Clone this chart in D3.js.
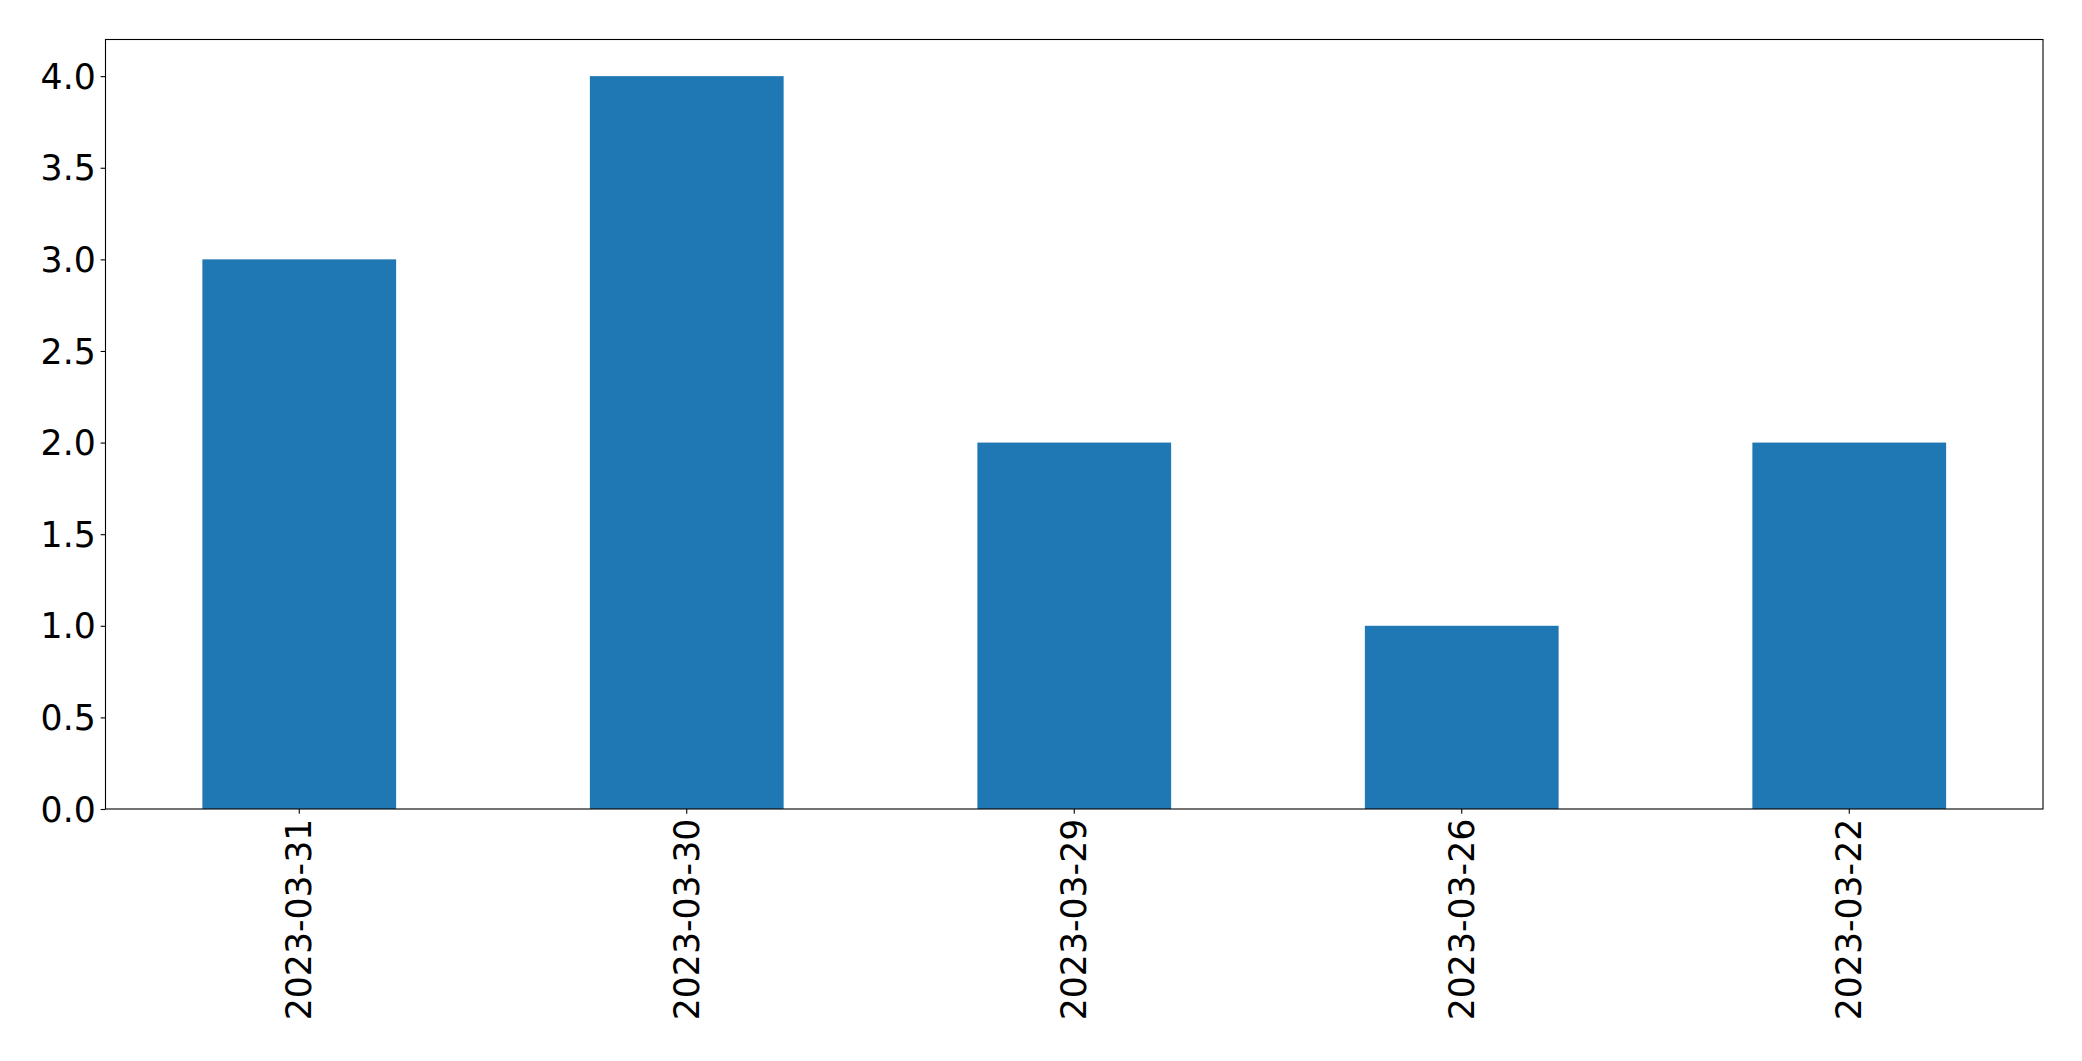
<!DOCTYPE html>
<html>
<head>
<meta charset="utf-8">
<script src="https://cdn.jsdelivr.net/npm/d3@7"></script>
<style>
  body { margin: 0; background: #fff; }
  text { font-family: "DejaVu Sans", sans-serif; fill: #000; }
</style>
</head>
<body>
<div id="viz"></div>
<script>
// Data
const dates = ["2023-03-31", "2023-03-30", "2023-03-29", "2023-03-26", "2023-03-22"];
const counts = [3, 4, 2, 1, 2];
const yTicks = [0, 0.5, 1, 1.5, 2, 2.5, 3, 3.5, 4];

// Geometry
const width = 2082;
const height = 1061;
const margin = {top: 39.5, bottom: 252, right: 39, left: 105.5};
const innerWidth = width - margin.left - margin.right;
const innerHeight = height - margin.top - margin.bottom;
const fontSize = 34.7;
const tickLen = 4.86;
const tickPad = 4.86;

const svg = d3.select("#viz")
  .append("svg")
  .attr("width", width)
  .attr("height", height);

const g = svg.append("g")
  .attr("transform", "translate(" + margin.left + "," + margin.top + ")");

const xScale = d3.scaleBand()
  .domain(dates)
  .range([0, innerWidth])
  .paddingInner(0.5)
  .paddingOuter(0.25);

const yScale = d3.scaleLinear()
  .domain([0, 4.2])
  .range([innerHeight, 0]);

// Bars
g.selectAll(".bar")
  .data(dates)
  .enter().append("rect")
  .attr("class", "bar")
  .attr("x", d => xScale(d))
  .attr("y", (d, i) => yScale(counts[i]))
  .attr("width", xScale.bandwidth())
  .attr("height", (d, i) => innerHeight - yScale(counts[i]))
  .attr("fill", "#1f77b4");

// Y axis
const yAxisG = g.append("g")
  .call(d3.axisLeft(yScale)
    .tickValues(yTicks)
    .tickFormat(d3.format(".1f"))
    .tickSize(tickLen)
    .tickPadding(tickPad));
yAxisG.select(".domain").remove();
yAxisG.selectAll("line").attr("stroke", "#000").attr("stroke-width", 1.1);
yAxisG.selectAll("text")
  .style("font-size", fontSize + "px")
  .attr("dy", "0.35em");

// X axis
const xAxisG = g.append("g")
  .attr("transform", "translate(0," + innerHeight + ")")
  .call(d3.axisBottom(xScale).tickSize(tickLen).tickPadding(tickPad));
xAxisG.select(".domain").remove();
xAxisG.selectAll("line").attr("stroke", "#000").attr("stroke-width", 1.1);
xAxisG.selectAll("text")
  .style("font-size", fontSize + "px")
  .attr("transform", "rotate(-90)")
  .attr("text-anchor", "end")
  .attr("x", -(tickLen + tickPad))
  .attr("y", 0)
  .attr("dy", "0.35em");

// Frame
g.append("rect")
  .attr("width", innerWidth)
  .attr("height", innerHeight)
  .attr("fill", "none")
  .attr("stroke", "#000")
  .attr("stroke-width", 1.1);
</script>
</body>
</html>
